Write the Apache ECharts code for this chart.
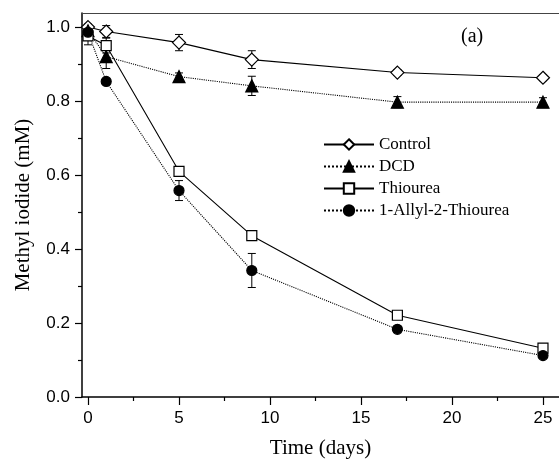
<!DOCTYPE html>
<html lang="en">
<head>
    <meta charset="UTF-8">
    <title>Methyl iodide</title>
    <style>
        html, body { margin: 0; padding: 0; background: #fff; }
        #main { width: 559px; height: 460px; }
    </style>
</head>
<body>
<div id="main"></div>
<script src="https://cdn.jsdelivr.net/npm/echarts@6/dist/echarts.min.js"></script>
<script>
  // data
  var days = [0, 1, 5, 9, 17, 25];
  var control = [1.0, 0.988, 0.958, 0.912, 0.877, 0.863];
  var controlErr = [0.008, 0.016, 0.022, 0.024, 0.008, 0.008];
  var dcd = [0.99, 0.92, 0.866, 0.841, 0.797, 0.797];
  var dcdErr = [0.01, 0.032, 0.01, 0.026, 0.015, 0.012];
  var thiourea = [0.976, 0.95, 0.61, 0.436, 0.221, 0.132];
  var thioureaErr = [0.024, 0.02, 0.006, 0.005, 0.005, 0.006];
  var allyl = [0.986, 0.853, 0.558, 0.342, 0.183, 0.112];
  var allylErr = [0.01, 0.008, 0.027, 0.046, 0.005, 0.006];
  var xMajor = [0, 5, 10, 15, 20, 25];
  var xMinor = [2.5, 7.5, 12.5, 17.5, 22.5];
  var yMajor = [0, 0.2, 0.4, 0.6, 0.8, 1.0];
  var yMinor = [0.1, 0.3, 0.5, 0.7, 0.9];

  var serif = '"Liberation Serif", "Times New Roman", serif';
  var sans = '"Liberation Sans", Arial, sans-serif';
  var myChart = echarts.init(document.getElementById('main'));

  function pts(ys) {
    return days.map(function (d, i) { return [d, ys[i]]; });
  }

  function errData(ys, es) {
    return days.map(function (d, i) { return [d, ys[i] - es[i], ys[i] + es[i]]; });
  }

  function errSeries(name, ys, es) {
    return {
      name: name,
      type: 'custom',
      z: 1,
      data: errData(ys, es),
      renderItem: function (params, api) {
        var lo = api.coord([api.value(0), api.value(1)]);
        var hi = api.coord([api.value(0), api.value(2)]);
        var w = 4;
        var st = { stroke: '#000', lineWidth: 1 };
        return {
          type: 'group',
          children: [
            { type: 'line', shape: { x1: lo[0], y1: lo[1], x2: hi[0], y2: hi[1] }, style: st },
            { type: 'line', shape: { x1: lo[0] - w, y1: lo[1], x2: lo[0] + w, y2: lo[1] }, style: st },
            { type: 'line', shape: { x1: hi[0] - w, y1: hi[1], x2: hi[0] + w, y2: hi[1] }, style: st }
          ]
        };
      }
    };
  }

  function lineSeries(name, ys, symbol, size, fill, dash) {
    return {
      name: name,
      type: 'line',
      z: 3,
      data: pts(ys),
      symbol: symbol,
      symbolSize: size,
      showAllSymbol: true,
      lineStyle: { color: '#000', width: 1.1, type: dash },
      itemStyle: { color: fill, borderColor: '#000', borderWidth: 1.2 },
      emphasis: { disabled: true }
    };
  }

  var tickLabel = { color: '#000', fontFamily: sans, fontSize: 17 };

  var option = {
    backgroundColor: '#fff',
    animation: false,
    title: {
      text: '(a)',
      left: 456,
      top: 22,
      textStyle: { fontFamily: serif, fontSize: 20, fontWeight: 'normal', color: '#000' }
    },
    legend: {
      data: ['Control', 'DCD', 'Thiourea', '1-Allyl-2-Thiourea'],
      orient: 'vertical',
      left: 323,
      top: 136,
      padding: 0,
      itemWidth: 50,
      itemHeight: 13,
      itemGap: 5,
      textStyle: { fontFamily: serif, fontSize: 17, color: '#000' }
    },
    grid: { left: 82, right: 0, top: 13, bottom: 63, containLabel: false, outerBoundsMode: 'none' },
    xAxis: [{
      type: 'value',
      min: -0.33,
      max: 25.88,
      position: 'bottom',
      name: 'Time (days)',
      nameLocation: 'middle',
      nameGap: 41,
      nameTextStyle: { fontFamily: serif, fontSize: 21, color: '#000' },
      axisLine: { onZero: false, lineStyle: { color: '#000', width: 1.5 } },
      axisTick: { customValues: xMajor, length: 8, lineStyle: { color: '#000', width: 1.2 } },
      axisLabel: Object.assign({ customValues: xMajor, margin: 13 }, tickLabel),
      splitLine: { show: false }
    }, {
      type: 'value',
      min: -0.33,
      max: 25.88,
      position: 'bottom',
      axisLine: { show: false, onZero: false },
      axisTick: { customValues: xMinor, length: 4, lineStyle: { color: '#000', width: 1.2 } },
      axisLabel: { show: false },
      splitLine: { show: false }
    }, {
      type: 'value',
      min: -0.33,
      max: 25.88,
      position: 'top',
      axisLine: { onZero: false, lineStyle: { color: '#444', width: 1 } },
      axisTick: { show: false },
      axisLabel: { show: false },
      splitLine: { show: false }
    }],
    yAxis: [{
      type: 'value',
      min: 0,
      max: 1.038,
      position: 'left',
      name: 'Methyl iodide (mM)',
      nameLocation: 'middle',
      nameGap: 48,
      nameTextStyle: { fontFamily: serif, fontSize: 21, color: '#000' },
      axisLine: { onZero: false, lineStyle: { color: '#000', width: 1.5 } },
      axisTick: { customValues: yMajor, length: 7, lineStyle: { color: '#000', width: 1.2 } },
      axisLabel: Object.assign({
        customValues: yMajor,
        margin: 12,
        formatter: function (v) { return v.toFixed(1); }
      }, tickLabel),
      splitLine: { show: false }
    }, {
      type: 'value',
      min: 0,
      max: 1.038,
      position: 'left',
      axisLine: { show: false, onZero: false },
      axisTick: { customValues: yMinor, length: 4, lineStyle: { color: '#000', width: 1.2 } },
      axisLabel: { show: false },
      splitLine: { show: false }
    }],
    series: [
      errSeries('eControl', control, controlErr),
      errSeries('eDCD', dcd, dcdErr),
      errSeries('eThiourea', thiourea, thioureaErr),
      errSeries('eAllyl', allyl, allylErr),
      lineSeries('Control', control, 'diamond', 13, '#fff', 'solid'),
      lineSeries('DCD', dcd, 'triangle', 12, '#000', 'dotted'),
      lineSeries('Thiourea', thiourea, 'rect', 10, '#fff', 'solid'),
      lineSeries('1-Allyl-2-Thiourea', allyl, 'circle', 10, '#000', 'dotted')
    ]
  };
  myChart.setOption(option);
</script>
</body>
</html>
